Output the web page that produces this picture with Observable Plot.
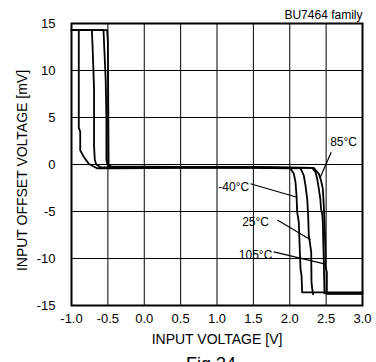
<!DOCTYPE html>
<html><head><meta charset="utf-8">
<script src="https://cdn.jsdelivr.net/npm/d3@7"></script>
<script src="https://cdn.jsdelivr.net/npm/@observablehq/plot@0.6"></script>
<style>
html,body{margin:0;padding:0;background:#fff;overflow:hidden;}
#chart svg{display:block;}
</style></head><body><div id="chart"></div>
<script>
// Tick values
const xTicks = [-1.0, -0.5, 0.0, 0.5, 1.0, 1.5, 2.0, 2.5, 3.0];
const yTicks = [-15, -10, -5, 0, 5, 10, 15];

// Curves: input voltage [V] vs input offset voltage [mV]
const xM40 = [-1.0, -0.90, -0.90, -0.88, -0.88, -0.83, -0.76, -0.65, -0.40, 0.50, 1.50, 2.01, 2.056, 2.079, 2.093, 2.102, 2.124, 2.134, 2.148, 2.162, 2.171, 3.0];
const yM40 = [14.3, 14.3, 3.9, 3.5, 1.5, 0.8, 0.05, -0.40, -0.40, -0.35, -0.35, -0.42, -0.99, -1.88, -3.3, -5.07, -6.1, -8.27, -11.1, -11.8, -13.6, -13.6];

const x25 = [-1.0, -0.72, -0.71, -0.69, -0.69, -0.68, -0.66, -0.60, 0.50, 1.50, 2.148, 2.193, 2.216, 2.24, 2.253, 2.262, 2.276, 2.295, 2.299, 2.308, 2.322];
const y25 = [14.3, 14.3, 12.5, 8.0, 2.0, 0.5, 0.0, -0.30, -0.30, -0.30, -0.40, -1.17, -2.23, -3.65, -5.43, -7.55, -8.27, -9.33, -12.5, -13.2, -13.8];

const x85 = [-1.0, -0.56, -0.55, -0.53, -0.52, -0.52, -0.50, 0.50, 1.50, 2.308, 2.354, 2.377, 2.40, 2.42, 2.43, 2.446, 2.455, 2.46, 2.468, 2.478, 3.0];
const y85 = [14.3, 14.3, 12.5, 9.0, 5.0, 0.5, -0.20, -0.25, -0.25, -0.35, -0.82, -1.52, -2.59, -3.65, -4.72, -5.25, -6.14, -7.9, -10.4, -13.7, -13.7];

const x105 = [-1.0, -0.51, -0.50, -0.49, -0.45, 0.50, 1.50, 2.33, 2.40, 2.43, 2.455, 2.468, 2.478, 2.49, 2.49, 2.51, 2.51, 3.0];
const y105 = [14.3, 14.3, 13.0, 0.0, -0.25, -0.30, -0.30, -0.35, -0.99, -1.7, -2.59, -4.36, -6.14, -8.97, -10.7, -11.5, -13.75, -13.75];

const seriesNames = ["-40°C", "25°C", "85°C", "105°C"];
const seriesX = [xM40, x25, x85, x105];
const seriesY = [yM40, y25, y85, y105];

// Annotations
const labelText = ["-40°C", "25°C", "85°C", "105°C"];
const labelX = [1.23, 1.53, 2.74, 1.53];
const labelY = [-2.4, -6.1, 2.37, -9.6];
const leaderX1 = [1.46, 1.83, 2.57, 1.78];
const leaderY1 = [-2.05, -5.9, 1.3, -9.3];
const leaderX2 = [2.10, 2.285, 2.42, 2.49];
const leaderY2 = [-3.48, -8.0, -1.35, -10.6];

const curveData = seriesNames.flatMap((t, i) => seriesX[i].map((x, j) => ({t, x, y: seriesY[i][j]})));
const labels = labelText.map((text, i) => ({text, x: labelX[i], y: labelY[i]}));
const leaders = labelText.map((text, i) => ({x1: leaderX1[i], y1: leaderY1[i], x2: leaderX2[i], y2: leaderY2[i]}));

const font = "'Liberation Sans', Arial, sans-serif";
const chart = Plot.plot({
  width: 376, height: 362,
  marginLeft: 71, marginRight: 14, marginTop: 23, marginBottom: 57,
  style: {fontFamily: font, fontSize: "13px", color: "#000", background: "#fff", overflow: "visible"},
  x: {domain: [-1, 3]},
  y: {domain: [-15, 15]},
  marks: [
    Plot.gridX(xTicks, {stroke: "#000", strokeOpacity: 1, strokeWidth: 1}),
    Plot.gridY(yTicks, {stroke: "#000", strokeOpacity: 1, strokeWidth: 1}),
    Plot.axisX(xTicks, {tickSize: 0, tickPadding: 8, tickFormat: d => d.toFixed(1), fontSize: 13, label: null}),
    Plot.axisY(yTicks, {tickSize: 0, tickPadding: 16, tickFormat: d => String(d), fontSize: 13, label: null}),
    Plot.text(["INPUT VOLTAGE [V]"], {frameAnchor: "bottom", lineAnchor: "bottom", dy: 38, fontSize: 14}),
    Plot.text(["INPUT OFFSET VOLTAGE [mV]"], {frameAnchor: "left", textAnchor: "middle", rotate: -90, dx: -49, dy: 6, fontSize: 14}),
    Plot.text(["BU7464 family"], {frameAnchor: "top-right", textAnchor: "end", lineAnchor: "bottom", dy: -5, fontSize: 12}),
    Plot.text(["Fig.34"], {frameAnchor: "bottom", lineAnchor: "top", dx: -6, dy: 52, fontSize: 18}),
    Plot.line(curveData, {x: "x", y: "y", z: "t", stroke: "#000", strokeWidth: 1.8, curve: "linear"}),
    Plot.link(leaders, {x1: "x1", y1: "y1", x2: "x2", y2: "y2", stroke: "#000", strokeWidth: 1.2}),
    Plot.text(labels, {x: "x", y: "y", text: "text", fontSize: 12, fill: "#000"}),
    Plot.frame({stroke: "#000", strokeWidth: 2})
  ]
});
document.getElementById("chart").appendChild(chart);
</script>
</body></html>
